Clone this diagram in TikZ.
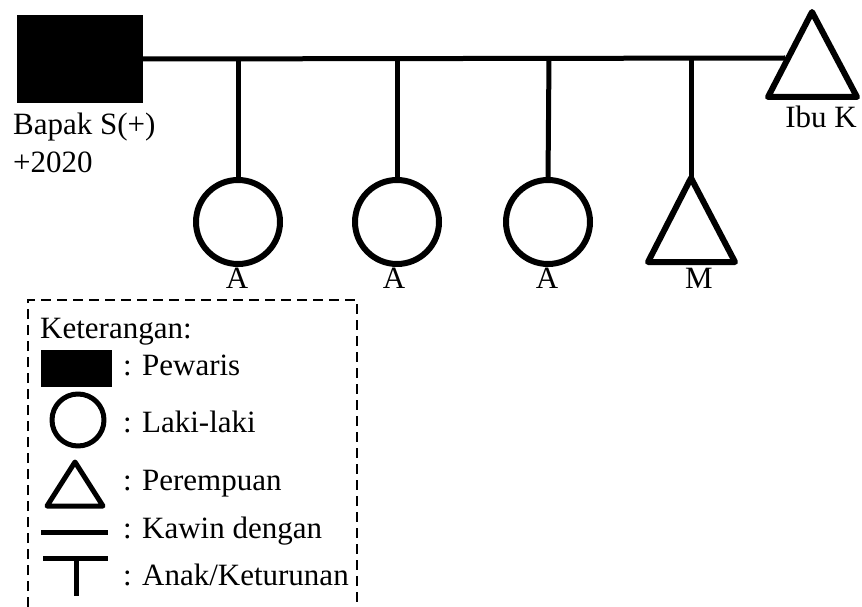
\documentclass[tikz,border=0pt]{standalone}
\usepackage{fontspec}
\setmainfont{Liberation Serif}
\begin{document}
\begin{tikzpicture}[x=1pt,y=-1pt,
  txt/.style={inner sep=0pt,font=\fontsize{31}{36}\selectfont},
  conn/.style={line width=5pt},
  shp/.style={line width=6pt,line join=round},
  lshp/.style={line width=5pt,line join=round},
  male/.style={circle,draw,shp,minimum size=84pt,inner sep=0pt,outer sep=0pt},
  legbox/.style={line width=2.8pt,dash pattern=on 10pt off 6pt}]
\useasboundingbox (0,0) rectangle (862,607);
\fill[white] (0,0) rectangle (862,607);
% pewaris
\node[fill=black,minimum width=126pt,minimum height=88pt,inner sep=0pt,outer sep=0pt] (bapak) at (80,59) {};
\node[txt,anchor=base west] (bapakT) at (13,135) {Bapak S(+)};
\node[txt,anchor=base west] (bapakY) at (13,172) {+2020};
% ibu K
\coordinate (ibukApex) at (812,12);
\draw[shp] (ibukApex) -- (857,97) -- (768,97) -- cycle;
\coordinate (ibukL) at (785,58);
\node[txt,anchor=base] (ibukT) at (821,128) {Ibu K};
% marriage line
\draw[conn] (bapak.east) -- (ibukL);
% children
\coordinate (j1) at (238,58);
\coordinate (j2) at (397,58);
\coordinate (j3) at (549,58);
\coordinate (j4) at (691,58);
\node[male] (a1) at (238,222) {};
\node[male] (a2) at (397,222) {};
\node[male] (a3) at (548,222) {};
\coordinate (mApex) at (691,178);
\draw[shp] (mApex) -- (735,262) -- (648,262) -- cycle;
\draw[conn] (j1) -- (a1.north);
\draw[conn] (j2) -- (a2.north);
\draw[conn] (j3) -- (a3.north);
\draw[conn] (j4) -- (mApex);
\node[txt,anchor=base] (l1) at (237,288) {A};
\node[txt,anchor=base] (l2) at (394,288) {A};
\node[txt,anchor=base] (l3) at (547,288) {A};
\node[txt,anchor=base] (l4) at (699,288) {M};
% legend
\draw[legbox] (28,607) -- (28,300) -- (357,300) -- (357,607);
\node[txt,anchor=base west] (ket) at (40,338) {Keterangan:};
\node[fill=black,minimum width=71pt,minimum height=37pt,inner sep=0pt] (lsq) at (76.5,368.5) {};
\node[txt,anchor=base west] (t1) at (123,375) {: Pewaris};
\node[circle,draw,lshp,minimum size=52pt,inner sep=0pt] (lci) at (78,420) {};
\node[txt,anchor=base west] (t2) at (123,432) {: Laki-laki};
\coordinate (ltriA) at (75,462);
\draw[lshp] (ltriA) -- (103,506) -- (47,506) -- cycle;
\node[txt,anchor=base west] (t3) at (123,490) {: Perempuan};
\coordinate (lk1) at (41,532);
\coordinate (lk2) at (108,532);
\draw[line width=5pt] (lk1) -- (lk2);
\node[txt,anchor=base west] (t4) at (123,538) {: Kawin dengan};
\coordinate (lt1) at (43,558);
\coordinate (lt2) at (108,558);
\coordinate (lt3) at (76,558);
\coordinate (lt4) at (76,596);
\draw[line width=5pt] (lt1) -- (lt2);
\draw[line width=5pt] (lt3) -- (lt4);
\node[txt,anchor=base west] (t5) at (123,585) {: Anak/Keturunan};
\end{tikzpicture}
\end{document}
